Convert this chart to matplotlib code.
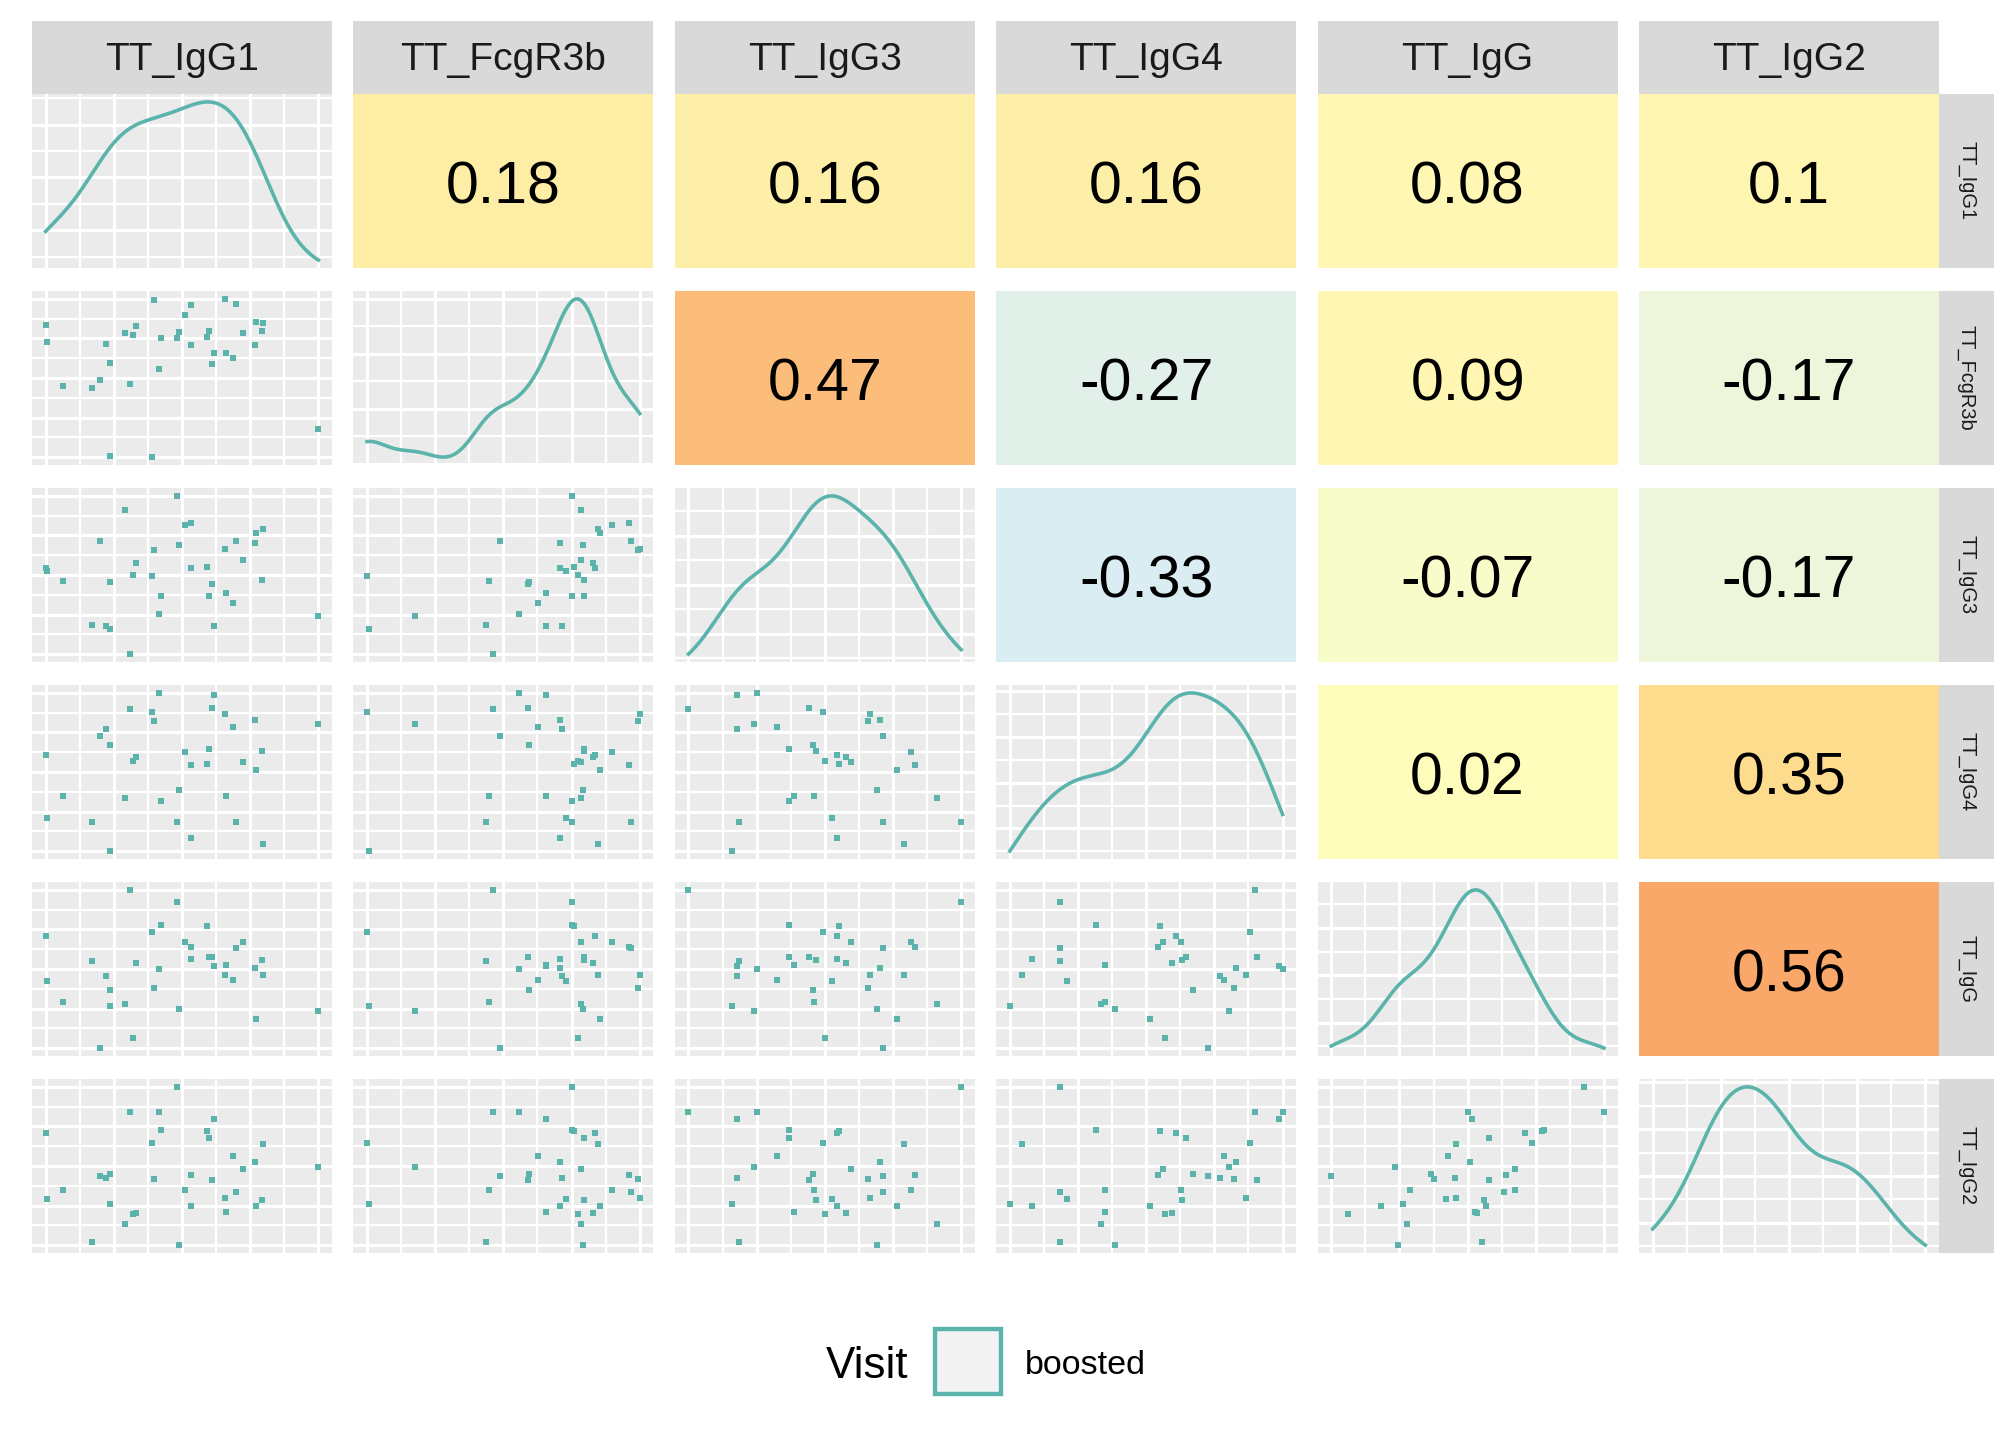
import numpy as np
import matplotlib
matplotlib.use('Agg')
import matplotlib.pyplot as plt
from matplotlib.colors import LinearSegmentedColormap, Normalize
from matplotlib.ticker import MultipleLocator, MaxNLocator, AutoMinorLocator
from matplotlib.patches import Rectangle

plt.rcParams['font.family'] = ['Liberation Sans', 'DejaVu Sans']

# variables (same order for columns and rows)
variables = ["TT_IgG1", "TT_FcgR3b", "TT_IgG3", "TT_IgG4", "TT_IgG", "TT_IgG2"]

# values per sample, arbitrary units
tt_igg1 = [0.0, 0.4, 6.3, 16.9, 19.9, 22.1, 23.5, 23.5, 29.0, 30.9, 32.0, 33.1,
           39.0, 39.7, 41.5, 42.3, 48.2, 48.9, 51.1, 53.3, 53.3, 59.2, 59.9, 61.0,
           61.8, 65.8, 66.2, 68.8, 69.9, 72.4, 76.8, 77.2, 79.4, 79.8, 100.0]
tt_fcgr3b = [83.5, 72.8, 44.9, 43.7, 48.7, 71.5, 59.5, 0.6, 78.5, 46.2, 77.2, 82.9,
             0.0, 99.4, 55.7, 75.3, 75.3, 79.1, 89.9, 96.2, 70.9, 75.9, 79.7, 58.9,
             65.8, 100.0, 65.8, 62.7, 96.8, 78.5, 70.9, 85.4, 79.7, 84.8, 17.7]
tt_igg3 = [54.4, 52.5, 46.2, 18.4, 71.5, 17.7, 45.6, 15.8, 91.1, 0.0, 50.0, 57.6,
           49.4, 65.8, 25.3, 36.7, 100.0, 69.0, 81.6, 82.9, 54.4, 55.1, 36.7, 44.3,
           17.7, 66.5, 38.6, 32.3, 71.5, 59.5, 70.3, 76.6, 46.8, 79.1, 24.1]
tt_igg4 = [60.8, 20.9, 34.8, 18.4, 72.8, 77.2, 67.1, 0.0, 33.5, 89.9, 57.0, 59.5,
           88.0, 82.3, 100.0, 31.6, 18.4, 38.6, 62.7, 54.4, 8.2, 55.1, 64.6, 90.5,
           98.7, 86.7, 34.8, 78.5, 18.4, 56.3, 82.9, 51.3, 63.3, 4.4, 80.4]
tt_igg = [71.1, 42.1, 28.9, 55.3, 0.0, 45.3, 36.5, 26.4, 27.7, 100.0, 6.3, 53.5,
          73.6, 37.7, 50.3, 78.0, 92.5, 24.5, 67.3, 64.2, 56.6, 77.4, 57.9, 57.9,
          51.6, 45.9, 52.8, 42.8, 63.5, 67.3, 50.9, 18.2, 56.0, 45.9, 23.3]
tt_igg2 = [71.1, 28.9, 34.6, 1.9, 43.4, 42.1, 44.7, 25.8, 13.2, 84.3, 19.5, 20.1,
           64.8, 41.5, 84.3, 73.0, 100.0, 0.0, 34.6, 44.0, 24.5, 72.3, 67.9, 40.9,
           79.9, 29.6, 20.8, 56.6, 33.3, 48.4, 52.8, 24.5, 28.3, 64.2, 49.1]

# correlations shown in the upper triangle (row, col, value)
corr_rows = [0, 0, 0, 0, 0, 1, 1, 1, 1, 2, 2, 2, 3, 3, 4]
corr_cols = [1, 2, 3, 4, 5, 2, 3, 4, 5, 3, 4, 5, 4, 5, 5]
corr_vals = [0.18, 0.16, 0.16, 0.08, 0.10, 0.47, -0.27, 0.09, -0.17,
             -0.33, -0.07, -0.17, 0.02, 0.35, 0.56]

legend_title = "Visit"
legend_label = "boosted"

data = [np.array(v) for v in [tt_igg1, tt_fcgr3b, tt_igg3, tt_igg4, tt_igg, tt_igg2]]

teal = "#5AB4AC"
panel_bg = "#EBEBEB"
strip_bg = "#D9D9D9"

cmap = LinearSegmentedColormap.from_list(
    "corr", [(0.0, "#4575B4"), (0.335, "#DBEEF3"), (0.5, "#FFFFBF"),
             (0.675, "#FDDC8E"), (0.78, "#F9A86A"), (1.0, "#D73027")])
norm = Normalize(vmin=-1, vmax=1)

W, H = 2016, 1440
fig = plt.figure(figsize=(14, 10), dpi=144)

col_left0, col_pitch, panel_w = 32, 321.4, 300
row_top0, row_pitch, panel_h = 94, 197, 174


def px_axes(x, y, w, h):
    return fig.add_axes([x / W, 1 - (y + h) / H, w / W, h / H])


def kde(x, n=512):
    # gaussian kernel, bw.nrd0 like R
    n_obs = len(x)
    sd = np.std(x, ddof=1)
    iqr = np.subtract(*np.percentile(x, [75, 25]))
    bw = 0.9 * min(sd, iqr / 1.34) * n_obs ** -0.2
    grid = np.linspace(x.min(), x.max(), n)
    dens = np.exp(-0.5 * ((grid[:, None] - x[None, :]) / bw) ** 2).sum(axis=1)
    dens /= n_obs * bw * np.sqrt(2 * np.pi)
    return grid, dens


def padded(lo, hi):
    pad = 0.05 * (hi - lo)
    return lo - pad, hi + pad


def style_grid(ax):
    ax.set_facecolor(panel_bg)
    ax.set_axisbelow(True)
    ax.grid(which='major', color='white', lw=1.5)
    ax.grid(which='minor', color='white', lw=1.1)
    ax.tick_params(which='both', length=0, labelbottom=False, labelleft=False)
    for s in ax.spines.values():
        s.set_visible(False)


corr_lookup = {(r, c): v for r, c, v in zip(corr_rows, corr_cols, corr_vals)}

for i in range(6):
    for j in range(6):
        x0 = col_left0 + j * col_pitch
        y0 = row_top0 + i * row_pitch
        ax = px_axes(x0, y0, panel_w, panel_h)
        if i < j:
            val = corr_lookup[(i, j)]
            ax.set_facecolor(cmap(norm(val)))
            ax.text(0.5, 0.46, f"{val:g}", ha='center', va='center',
                    fontsize=29.5, color='black', transform=ax.transAxes)
            ax.set_xticks([])
            ax.set_yticks([])
            for s in ax.spines.values():
                s.set_visible(False)
            continue
        xd = data[j]
        ax.set_xlim(*padded(xd.min(), xd.max()))
        ax.xaxis.set_major_locator(MultipleLocator(25))
        ax.xaxis.set_minor_locator(MultipleLocator(12.5))
        if i == j:
            gx, gy = kde(xd)
            ax.plot(gx, gy, color=teal, lw=1.8)
            ax.set_ylim(*padded(gy.min(), gy.max()))
            ax.yaxis.set_major_locator(MaxNLocator(4))
            ax.yaxis.set_minor_locator(AutoMinorLocator(2))
        else:
            yd = data[i]
            ax.plot(xd, yd, 's', color=teal, ms=2.8, mew=0)
            ax.set_ylim(*padded(yd.min(), yd.max()))
            ax.yaxis.set_major_locator(MultipleLocator(25))
            ax.yaxis.set_minor_locator(MultipleLocator(12.5))
        style_grid(ax)

# top strips
for j, name in enumerate(variables):
    x0 = col_left0 + j * col_pitch
    sax = px_axes(x0, 21, panel_w, 73)
    sax.set_facecolor(strip_bg)
    sax.set_xticks([])
    sax.set_yticks([])
    for s in sax.spines.values():
        s.set_visible(False)
    sax.text(0.5, 0.47, name, ha='center', va='center', fontsize=19.5,
             color='#1A1A1A', transform=sax.transAxes)

# right strips
for i, name in enumerate(variables):
    y0 = row_top0 + i * row_pitch
    sax = px_axes(1939, y0, 55, panel_h)
    sax.set_facecolor(strip_bg)
    sax.set_xticks([])
    sax.set_yticks([])
    for s in sax.spines.values():
        s.set_visible(False)
    sax.text(0.5, 0.5, name, ha='center', va='center', fontsize=10,
             rotation=-90, color='#1A1A1A', transform=sax.transAxes)

# legend
fig.text(826 / W, 1 - 1366 / H, legend_title, ha='left', va='center',
         fontsize=22, color='black')
fig.patches.append(Rectangle((935 / W, 1 - 1394 / H), 66 / W, 65 / H,
                             transform=fig.transFigure, facecolor='#F2F2F2',
                             edgecolor=teal, lw=2.2))
fig.text(1025 / W, 1 - 1365 / H, legend_label, ha='left', va='center',
         fontsize=17, color='black')

fig.savefig("out.png", dpi=144, facecolor='white')
